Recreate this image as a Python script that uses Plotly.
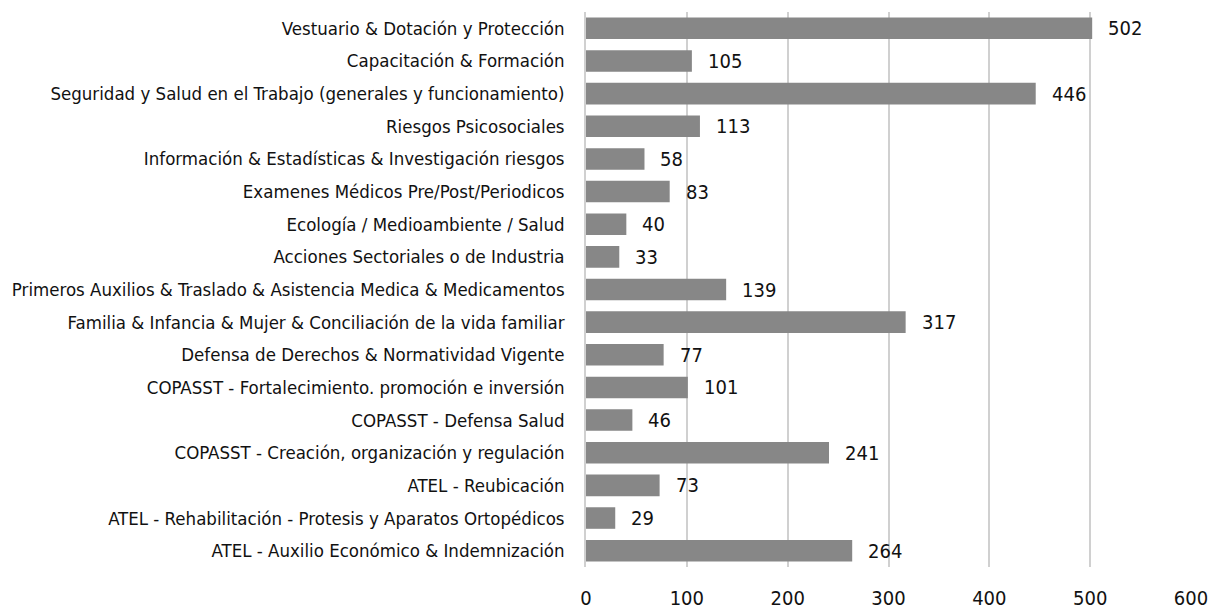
import plotly.graph_objects as go

categories = [
    "Vestuario & Dotación y Protección",
    "Capacitación & Formación",
    "Seguridad y Salud en el Trabajo (generales y funcionamiento)",
    "Riesgos Psicosociales",
    "Información & Estadísticas & Investigación riesgos",
    "Examenes Médicos Pre/Post/Periodicos",
    "Ecología / Medioambiente / Salud",
    "Acciones Sectoriales o de Industria",
    "Primeros Auxilios & Traslado & Asistencia Medica & Medicamentos",
    "Familia & Infancia & Mujer & Conciliación de la vida familiar",
    "Defensa de Derechos & Normatividad Vigente",
    "COPASST - Fortalecimiento. promoción e inversión",
    "COPASST - Defensa Salud",
    "COPASST - Creación, organización y regulación",
    "ATEL - Reubicación",
    "ATEL - Rehabilitación - Protesis y Aparatos Ortopédicos",
    "ATEL - Auxilio Económico & Indemnización",
]
values = [502, 105, 446, 113, 58, 83, 40, 33, 139, 317, 77, 101, 46, 241, 73, 29, 264]
x_ticks = [0, 100, 200, 300, 400, 500, 600]

FONT = "DejaVu Sans Condensed, Liberation Sans Narrow, sans-serif"
FS_CAT = 18.5
FS_NUM = 20

fig = go.Figure()
fig.add_trace(go.Bar(
    y=categories, x=values, orientation="h",
    marker=dict(color="#878787", line=dict(width=0)),
    width=0.66,
    hoverinfo="x+y",
))

for c, v in zip(categories, values):
    fig.add_annotation(x=v, y=c, text=str(v), showarrow=False,
                       xanchor="left", yanchor="middle", xshift=14,
                       font=dict(family=FONT, size=FS_NUM, color="#111111"))

fig.update_layout(
    width=1210, height=610,
    margin=dict(l=586, r=19, t=12, b=43, autoexpand=False),
    paper_bgcolor="white", plot_bgcolor="white",
    showlegend=False,
    font=dict(family=FONT, size=FS_CAT, color="#111111"),
)
fig.update_xaxes(range=[0, 600], tickvals=x_ticks, showgrid=True,
                 gridcolor="#d0d0d0", gridwidth=1.5, zeroline=False,
                 showline=False, ticks="", tickfont=dict(size=FS_NUM),
                 ticklabelstandoff=17, automargin=False)
fig.update_yaxes(categoryorder="array", categoryarray=categories,
                 autorange="reversed", showgrid=False, ticks="",
                 showline=True, linecolor="#d0d0d0", linewidth=1.5,
                 ticklabelstandoff=16, tickfont=dict(size=FS_CAT),
                 automargin=False)

fig.write_html(
    "out.html",
    config={"displayModeBar": False},
    post_script="document.body.style.margin='0';document.body.style.overflow='hidden';",
)
